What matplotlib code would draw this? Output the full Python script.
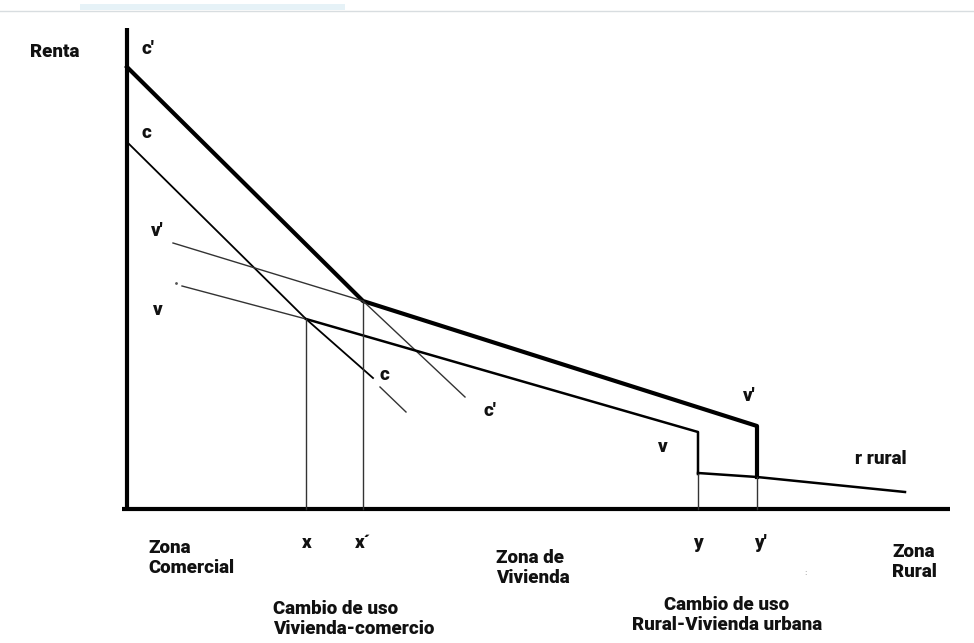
import numpy as np
import matplotlib.pyplot as plt

# Esquema de renta urbana (coordenadas del dibujo en pixeles, y hacia abajo)

# ejes
eje_y_x = [127, 127]
eje_y_y = [28, 510]
eje_x_x = [122, 950]
eje_x_y = [509, 509]

# curva comercial c' (gruesa) y tramo de vivienda v' hasta y'
cp_x = [127, 363, 757, 757]
cp_y = [67, 301, 426, 477]

# curva comercial c
c_x = [127, 306, 373]
c_y = [142, 319, 378]
c2_x = [380, 406]
c2_y = [387, 412]

# prolongacion de c' despues de x'
cp2_x = [363, 465]
cp2_y = [301, 397]

# v' (tramo fino a la izquierda de x')
vp_x = [173, 363]
vp_y = [243, 301]

# v (fino hasta x, grueso hasta y)
v1_x = [182, 306]
v1_y = [286, 319]
v2_x = [306, 698, 698]
v2_y = [319, 432, 474]

# renta rural
r_x = [698, 757, 905]
r_y = [473, 477, 492]

# verticales x, x', y, y'
vert_x = [306, 363, 698, 757]
vert_top = [319, 301, 474, 477]

fig = plt.figure(figsize=(9.74, 6.43), dpi=100)
ax = fig.add_axes([0, 0, 1, 1])
ax.set_xlim(0, 974)
ax.set_ylim(643, 0)
ax.axis('off')

# barra superior
ax.plot([0, 974], [11, 11], color='#d8dde0', lw=1)
ax.fill_between([80, 345], 4, 10, color='#e6f2f7', lw=0)

ax.plot(eje_y_x, eje_y_y, color='black', lw=3, solid_capstyle='butt')
ax.plot(eje_x_x, eje_x_y, color='black', lw=3, solid_capstyle='butt')

ax.plot(cp_x, cp_y, color='black', lw=3)
ax.plot(c_x, c_y, color='black', lw=1.3)
ax.plot(c2_x, c2_y, color='#333333', lw=1.0)
ax.plot(cp2_x, cp2_y, color='#333333', lw=1.0)
ax.plot(vp_x, vp_y, color='#333333', lw=1.0)
ax.plot(v1_x, v1_y, color='#333333', lw=1.0)
ax.plot(v2_x, v2_y, color='black', lw=1.8)
ax.plot(r_x, r_y, color='black', lw=1.8)
ax.plot([176], [283], marker='.', color='#555555', ms=2)
for xx, yt in zip(vert_x, vert_top):
    ax.plot([xx, xx], [yt, 509], color='#333333', lw=1.0)

kw = dict(family=['Roboto', 'DejaVu Sans'], fontweight='heavy', fontsize=13.5,
          color='#111111', va='center')
ax.text(30, 52, 'Renta', **kw)
ax.text(141, 49, "c'", **kw)
ax.text(141, 133, 'c', **kw)
ax.text(151, 231, "v'", **kw)
ax.text(153, 310, 'v', **kw)
ax.text(380, 375, 'c', **kw)
ax.text(483, 411, "c'", **kw)
ax.text(743, 396, "v'", **kw)
ax.text(658, 447, 'v', **kw)
ax.text(855, 459, 'r rural', **kw)

ax.text(148, 558, 'Zona\nComercial', linespacing=1.12, **kw)
ax.text(302, 543, 'x', **kw)
ax.text(355, 543, 'x´', **kw)
ax.text(496, 568, 'Zona de\nVivienda', linespacing=1.12, **kw)
ax.text(693, 543, 'y', **kw)
ax.text(754, 543, "y'", **kw)
ax.text(892, 562, 'Zona\nRural', linespacing=1.12, **kw)
ax.text(805, 573, ':', fontsize=5, color='#888888', ha='center', va='center')

ax.text(273, 619, 'Cambio de uso\nVivienda-comercio', linespacing=1.12, **kw)
ax.text(727, 615, 'Cambio de uso\nRural-Vivienda urbana', linespacing=1.12,
        ha='center', **kw)

fig.savefig('out.png', dpi=100, facecolor='white')
